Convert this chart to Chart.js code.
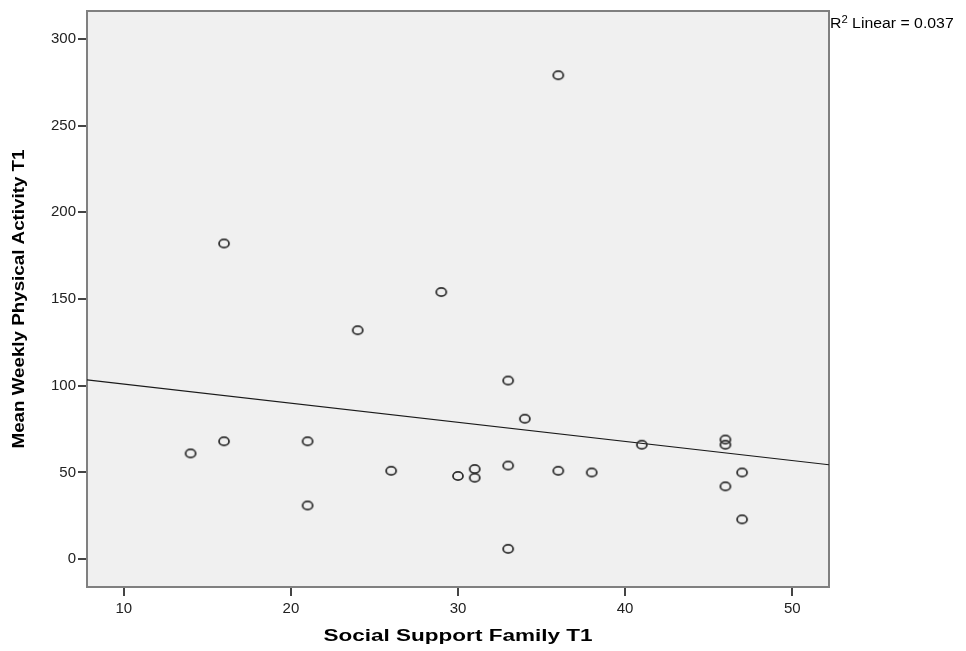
<!DOCTYPE html>
<html>
<head>
<meta charset="utf-8">
<script src="https://cdn.jsdelivr.net/npm/chart.js@4.4.1/dist/chart.umd.min.js"></script>
<style>
  html, body { margin: 0; padding: 0; background: #ffffff; }
  canvas { display: block; }
</style>
</head>
<body>
<canvas id="scatterChart" width="966" height="651"></canvas>
<script>
// data
var supportFamily = [14, 16, 16, 21, 21, 24, 26, 29, 30, 31, 31, 33, 33, 33, 34, 36, 36, 38, 41, 46, 46, 46, 47, 47];
var activity = [61, 68, 182, 68, 31, 132, 51, 154, 48, 52, 47, 103, 54, 6, 81, 279, 51, 50, 66, 69, 66, 42, 50, 23];

var xTicks = [10, 20, 30, 40, 50];
var yTicks = [0, 50, 100, 150, 200, 250, 300];
var xRange = [7.8, 52.2];
var yRange = [-16, 316];

var xTitle = 'Social Support Family T1';
var yTitle = 'Mean Weekly Physical Activity T1';
var fitLabel = ['R', '2', ' Linear = 0.037'];

// least squares fit line, from the points
var n = supportFamily.length;
var mx = supportFamily.reduce(function (a, b) { return a + b; }, 0) / n;
var my = activity.reduce(function (a, b) { return a + b; }, 0) / n;
var sxy = 0, sxx = 0;
for (var i = 0; i < n; i++) {
    sxy += (supportFamily[i] - mx) * (activity[i] - my);
    sxx += (supportFamily[i] - mx) * (supportFamily[i] - mx);
}
var slope = sxy / sxx;
var intercept = my - slope * mx;

var points = supportFamily.map(function (x, i) { return { x: x, y: activity[i] }; });
var fitLine = xRange.map(function (x) { return { x: x, y: intercept + slope * x }; });

// open ellipse marker like SPSS
var marker = document.createElement('canvas');
marker.width = 14;
marker.height = 12;
var mctx = marker.getContext('2d');
mctx.strokeStyle = '#2e2e2e';
mctx.lineWidth = 1.8;
mctx.beginPath();
mctx.ellipse(7, 6, 5, 4.1, 0, 0, Math.PI * 2);
mctx.stroke();

// text stretched horizontally, the reference image is a bit wide
function stretchedText(ctx, text, x, y, font, targetWidth, rotate) {
    ctx.save();
    ctx.font = font;
    ctx.fillStyle = '#000000';
    ctx.textAlign = 'center';
    ctx.textBaseline = 'middle';
    var w = ctx.measureText(text).width;
    ctx.translate(x, y);
    if (rotate) ctx.rotate(-Math.PI / 2);
    ctx.scale(targetWidth / w, 1);
    ctx.fillText(text, 0, 0);
    ctx.restore();
}

var plotFrame = {
    id: 'plotFrame',
    beforeDatasetsDraw: function (chart) {
        var a = chart.chartArea;
        var ctx = chart.ctx;
        ctx.save();
        ctx.fillStyle = '#f0f0f0';
        ctx.fillRect(a.left, a.top, a.right - a.left, a.bottom - a.top);
        ctx.strokeStyle = '#808080';
        ctx.lineWidth = 2;
        ctx.strokeRect(a.left, a.top, a.right - a.left, a.bottom - a.top);
        ctx.restore();
    },
    afterDraw: function (chart) {
        var a = chart.chartArea;
        var ctx = chart.ctx;
        // axis titles
        stretchedText(ctx, xTitle, (a.left + a.right) / 2, 637, 'bold 16px "Liberation Sans", Arial, sans-serif', 269, false);
        stretchedText(ctx, yTitle, 20, (a.top + a.bottom) / 2, 'bold 16px "Liberation Sans", Arial, sans-serif', 299, true);
        // R2 label with superscript
        ctx.save();
        ctx.fillStyle = '#000000';
        ctx.textAlign = 'left';
        ctx.textBaseline = 'alphabetic';
        ctx.translate(a.right + 1, 28);
        ctx.scale(1.13, 1);
        ctx.font = '14px "Liberation Sans", Arial, sans-serif';
        var cx = 0;
        ctx.fillText(fitLabel[0], cx, 0);
        cx += ctx.measureText(fitLabel[0]).width;
        ctx.font = '10px "Liberation Sans", Arial, sans-serif';
        ctx.fillText(fitLabel[1], cx, -5);
        cx += ctx.measureText(fitLabel[1]).width;
        ctx.font = '14px "Liberation Sans", Arial, sans-serif';
        ctx.fillText(fitLabel[2], cx, 0);
        ctx.restore();
    }
};

var ctx = document.getElementById('scatterChart').getContext('2d');

new Chart(ctx, {
    type: 'scatter',
    data: {
        datasets: [{
            label: 'Observed',
            data: points,
            pointStyle: marker,
            pointRadius: 5,
            showLine: false
        }, {
            label: 'Linear',
            data: fitLine,
            showLine: true,
            borderColor: '#1a1a1a',
            borderWidth: 1.2,
            pointRadius: 0,
            fill: false
        }]
    },
    options: {
        responsive: false,
        animation: false,
        events: [],
        layout: {
            padding: { top: 11, right: 137, left: 0, bottom: 0 }
        },
        scales: {
            x: {
                type: 'linear',
                min: xRange[0],
                max: xRange[1],
                afterFit: function (scale) { scale.height = 64; },
                afterBuildTicks: function (scale) {
                    scale.ticks = xTicks.map(function (v) { return { value: v }; });
                },
                grid: {
                    drawOnChartArea: false,
                    drawTicks: true,
                    tickLength: 9,
                    color: '#444444',
                    lineWidth: 2
                },
                border: { color: '#444444', width: 2 },
                ticks: {
                    padding: 4,
                    color: '#222222',
                    font: { family: '"Liberation Sans", Arial, sans-serif', size: 15 }
                }
            },
            y: {
                type: 'linear',
                min: yRange[0],
                max: yRange[1],
                afterFit: function (scale) { scale.width = 87; },
                afterBuildTicks: function (scale) {
                    scale.ticks = yTicks.map(function (v) { return { value: v }; });
                },
                grid: {
                    drawOnChartArea: false,
                    drawTicks: true,
                    tickLength: 9,
                    color: '#444444',
                    lineWidth: 2
                },
                border: { color: '#444444', width: 2 },
                ticks: {
                    padding: 2,
                    color: '#222222',
                    font: { family: '"Liberation Sans", Arial, sans-serif', size: 15 }
                }
            }
        },
        plugins: {
            legend: { display: false },
            tooltip: { enabled: false }
        }
    },
    plugins: [plotFrame]
});
</script>
</body>
</html>
